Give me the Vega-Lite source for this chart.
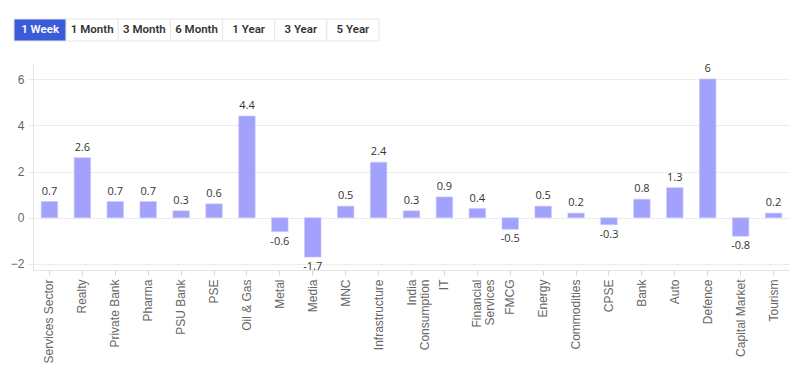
{
  "$schema": "https://vega.github.io/schema/vega-lite/v6.json",
  "padding": {"left": 10, "top": 18, "right": 0, "bottom": 0},
  "background": "white",
  "columns": 1,
  "align": "none",
  "spacing": 21,
  "config": {"view": {"stroke": null}, "font": "Liberation Sans"},
  "concat": [
    {
      "width": 365,
      "height": 22,
      "data": {"values": [
        {"period": "1 Week", "selected": true},
        {"period": "1 Month", "selected": false},
        {"period": "3 Month", "selected": false},
        {"period": "6 Month", "selected": false},
        {"period": "1 Year", "selected": false},
        {"period": "3 Year", "selected": false},
        {"period": "5 Year", "selected": false}
      ]},
      "encoding": {
        "x": {"field": "period", "type": "nominal", "sort": null, "axis": null,
              "scale": {"paddingInner": 0, "paddingOuter": 0, "range": [-19, 346]}}
      },
      "layer": [
        {
          "mark": {"type": "rect", "stroke": "#e6e6e6", "strokeWidth": 1},
          "encoding": {
            "fill": {"condition": {"test": "datum.selected", "value": "#3b5bdb"}, "value": "#ffffff"}
          }
        },
        {
          "mark": {"type": "text", "font": "Roboto", "fontSize": 11.5, "fontWeight": 600, "align": "center", "baseline": "middle"},
          "encoding": {
            "y": {"value": 11},
            "text": {"field": "period", "type": "nominal"},
            "color": {"condition": {"test": "datum.selected", "value": "#ffffff"}, "value": "#333333"}
          }
        }
      ]
    },
    {
      "width": 757,
      "height": 206,
      "data": {"values": [
        {"sector": "Services Sector", "change": 0.7},
        {"sector": "Realty", "change": 2.6},
        {"sector": "Private Bank", "change": 0.7},
        {"sector": "Pharma", "change": 0.7},
        {"sector": "PSU Bank", "change": 0.3},
        {"sector": "PSE", "change": 0.6},
        {"sector": "Oil & Gas", "change": 4.4},
        {"sector": "Metal", "change": -0.6},
        {"sector": "Media", "change": -1.7},
        {"sector": "MNC", "change": 0.5},
        {"sector": "Infrastructure", "change": 2.4},
        {"sector": "India Consumption", "change": 0.3},
        {"sector": "IT", "change": 0.9},
        {"sector": "Financial Services", "change": 0.4},
        {"sector": "FMCG", "change": -0.5},
        {"sector": "Energy", "change": 0.5},
        {"sector": "Commodities", "change": 0.2},
        {"sector": "CPSE", "change": -0.3},
        {"sector": "Bank", "change": 0.8},
        {"sector": "Auto", "change": 1.3},
        {"sector": "Defence", "change": 6},
        {"sector": "Capital Market", "change": -0.8},
        {"sector": "Tourism", "change": 0.2}
      ]},
      "encoding": {
        "x": {
          "field": "sector", "type": "nominal", "sort": null, "title": null,
          "scale": {"paddingInner": 0.5, "paddingOuter": 0.25},
          "axis": {
            "labelAngle": -90, "labelColor": "#666666", "labelFontSize": 12, "labelPadding": 4,
            "labelLineHeight": 13,
            "labelExpr": "datum.value == 'India Consumption' ? ['India', 'Consumption'] : datum.value == 'Financial Services' ? ['Financial', 'Services'] : datum.value",
            "domainColor": "#e3e3e3", "tickColor": "#d6d6d6", "tickSize": 5, "grid": false
          }
        },
        "y": {
          "field": "change", "type": "quantitative", "title": null,
          "scale": {"domain": [-2.26, 6.65], "nice": false, "zero": false},
          "axis": {
            "values": [-2, 0, 2, 4, 6], "labelColor": "#666666", "labelFontSize": 12, "labelPadding": 4,
            "gridColor": "#ececec", "domainColor": "#e3e3e3", "tickColor": "#ececec", "tickSize": 5
          }
        }
      },
      "layer": [
        {
          "mark": {"type": "bar", "color": "#a2a2fc", "stroke": "#c6c6fd", "strokeWidth": 0.6},
          "encoding": {"y2": {"datum": 0}}
        },
        {
          "transform": [{"filter": "datum.change >= 0"}],
          "mark": {"type": "text", "baseline": "bottom", "dy": -5, "fontSize": 11, "color": "#333333", "font": "Open Sans"},
          "encoding": {"text": {"field": "change", "type": "nominal"}}
        },
        {
          "transform": [{"filter": "datum.change < 0"}],
          "mark": {"type": "text", "baseline": "top", "dy": 4, "fontSize": 11, "color": "#333333", "font": "Open Sans"},
          "encoding": {"text": {"field": "change", "type": "nominal"}}
        }
      ]
    }
  ]
}
